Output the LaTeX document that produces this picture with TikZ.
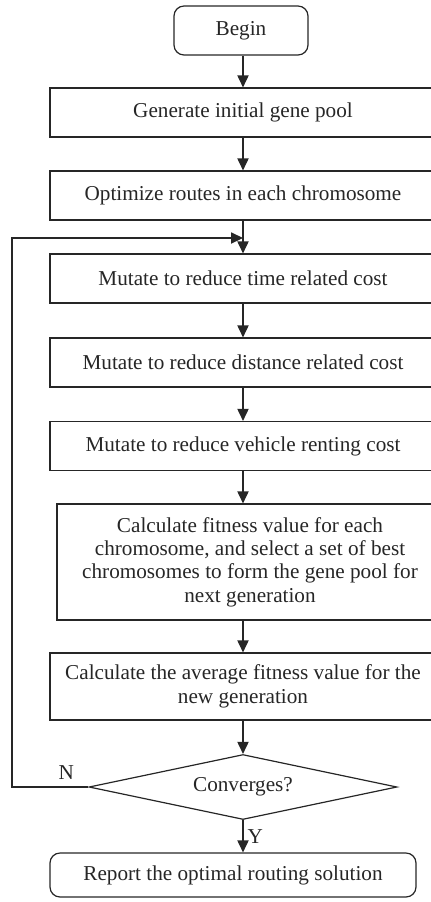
\documentclass[tikz,border=0pt]{standalone}
\usepackage{fontspec}
\setmainfont{Liberation Serif}
\usepackage{tikz}
\usetikzlibrary{arrows.meta, shapes.geometric}

\begin{document}
\begin{tikzpicture}[x=0.5pt, y=-0.5pt,
        every node/.style={font=\fontsize{10.6}{11.7}\selectfont, text=black!85},
        proc/.style={draw=black!85, line width=0.6pt, minimum width=193pt, minimum height=24.5pt, inner sep=2pt, align=center},
        term/.style={proc, rounded corners=5pt},
        decide/.style={draw=black!85, line width=0.6pt, diamond, aspect=4.74, inner sep=0pt, minimum width=154pt, minimum height=32.5pt},
        flow/.style={draw=black!85, line width=0.6pt, -{Triangle[length=6pt, width=5.6pt]}}]
                \useasboundingbox (0,0) rectangle (430,902);

                \node[term, minimum width=67pt] (begin) at (241, 30.5) {Begin};
                \node[proc] (gen) at (243, 112.5) {Generate initial gene pool};
                \node[proc] (opt) at (243, 195.5) {Optimize routes in each chromosome};
                \node[proc] (mtime) at (243, 278.5) {Mutate to reduce time related cost};
                \node[proc] (mdist) at (243, 362.5) {Mutate to reduce distance related cost};
                \node[proc] (mveh) at (243, 446) {Mutate to reduce vehicle renting cost};
                \node[proc, minimum height=58pt] (fit) at (250, 562) {Calculate fitness value for each\\chromosome, and select a set of best\\chromosomes to form the gene pool for\\next generation};
                \node[proc, minimum height=33.5pt] (avg) at (243, 686.5) {Calculate the average fitness value for the\\new generation};
                \node[decide] (conv) at (243, 787) {Converges?};
                \node[term, minimum width=183pt, minimum height=22pt] (report) at (233, 875) {Report the optimal routing solution};

                \coordinate (lb) at (12, 787);
                \coordinate (lt) at (12, 238);
                \coordinate (into) at (243, 238);

                \draw[flow] (begin.south -| gen.north) -- (gen);
                \draw[flow] (gen) -- (opt);
                \draw[flow] (opt) -- (mtime);
                \draw[flow] (mtime) -- (mdist);
                \draw[flow] (mdist) -- (mveh);
                \draw[flow] (mveh.south) -- (mveh.south |- fit.north);
                \draw[flow] (fit.south -| avg.south) -- (avg);
                \draw[flow] (avg) -- (conv);
                \draw[flow] (conv.south) -- node[right, inner sep=2pt] {Y} (conv.south |- report.north);
                \draw[flow] (conv.west) -- node[above, pos=0.29] {N} (lb) -- (lt) -- (into);
            \end{tikzpicture}
\end{document}
